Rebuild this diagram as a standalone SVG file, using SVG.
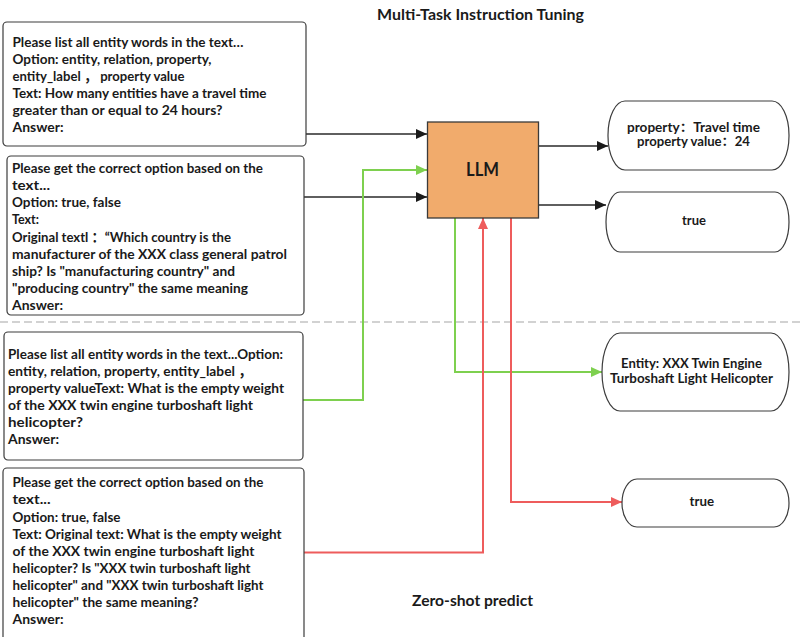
<svg xmlns="http://www.w3.org/2000/svg" width="803" height="637" viewBox="0 0 803 637">
  <style>
    .bg { fill: #ffffff; }
    .box { fill: #ffffff; stroke: #3c3c3c; stroke-width: 1.2; }
    .llm { fill: #F1AB6C; stroke: #3a3a3a; stroke-width: 1.3; }
    .t { font-family: Lato, "Open Sans", "Noto Sans CJK SC", sans-serif; font-weight: 700; font-size: 14px; fill: #1a1a1a; }
    .o { font-family: Lato, "Open Sans", "Noto Sans CJK SC", sans-serif; font-weight: 700; font-size: 12.5px; fill: #1a1a1a; }
    .h { font-family: Lato, "Open Sans", sans-serif; font-weight: 700; font-size: 15px; fill: #1a1a1a; }
    .big { font-family: Lato, "Open Sans", sans-serif; font-weight: 700; font-size: 18px; fill: #1a1a1a; }
    .blk { fill: none; stroke: #2a2a2a; stroke-width: 1.4; }
    .grn { fill: none; stroke: #7ED04F; stroke-width: 2; }
    .red { fill: none; stroke: #EE5C5C; stroke-width: 2; }
    .sep { fill: none; stroke: #c4c4c4; stroke-width: 1.5; stroke-dasharray: 8 4; }
  </style>
  <defs>
    <marker id="ah-black" markerUnits="userSpaceOnUse" markerWidth="12" markerHeight="10" refX="11" refY="5" orient="auto">
      <path d="M0,0 L11,5 L0,10 Z" fill="#1a1a1a"/>
    </marker>
    <marker id="ah-green" markerUnits="userSpaceOnUse" markerWidth="12" markerHeight="10" refX="11" refY="5" orient="auto">
      <path d="M0,0 L11,5 L0,10 Z" fill="#7ED04F"/>
    </marker>
    <marker id="ah-red" markerUnits="userSpaceOnUse" markerWidth="12" markerHeight="10" refX="11" refY="5" orient="auto">
      <path d="M0,0 L11,5 L0,10 Z" fill="#EE5C5C"/>
    </marker>
  </defs>

  <rect class="bg" x="0" y="0" width="803" height="637"/>

  <!-- section headings and divider -->
  <text class="h" x="377" y="19.5" textLength="207" lengthAdjust="spacingAndGlyphs">Multi-Task Instruction Tuning</text>
  <line class="sep" x1="0" y1="322" x2="803" y2="322"/>
  <text class="h" x="412" y="606" textLength="121" lengthAdjust="spacingAndGlyphs">Zero-shot predict</text>

  <!-- connectors -->
  <g id="connectors">
    <path class="blk" d="M306,134 H427" marker-end="url(#ah-black)"/>
    <path class="blk" d="M304,197 H427" marker-end="url(#ah-black)"/>
    <path class="blk" d="M539,146 H608" marker-end="url(#ah-black)"/>
    <path class="blk" d="M539,205 H606" marker-end="url(#ah-black)"/>
    <path class="grn" d="M303,400 H363 V170 H427" marker-end="url(#ah-green)"/>
    <path class="grn" d="M455,218 V372 H602" marker-end="url(#ah-green)"/>
    <path class="red" d="M304,552.5 H483 V218" marker-end="url(#ah-red)"/>
    <path class="red" d="M511,218 V502 H622" marker-end="url(#ah-red)"/>
  </g>

  <!-- instruction 1 -->
  <g id="prompt-entity-train">
    <rect class="box" x="3" y="22" width="303" height="124" rx="4"/>
    <text class="t" x="12.5" y="46.5" textLength="231" lengthAdjust="spacingAndGlyphs">Please list all entity words in the text…</text>
    <text class="t" x="12.5" y="63.5" textLength="199" lengthAdjust="spacingAndGlyphs">Option: entity, relation, property,</text>
    <text class="t" x="12.5" y="80.5" textLength="172" lengthAdjust="spacingAndGlyphs">entity_label ， property value</text>
    <text class="t" x="12.5" y="97.5" textLength="254" lengthAdjust="spacingAndGlyphs">Text: How many entities have a travel time</text>
    <text class="t" x="12.5" y="114.5" textLength="210" lengthAdjust="spacingAndGlyphs">greater than or equal to 24 hours?</text>
    <text class="t" x="12.5" y="131.5" textLength="51" lengthAdjust="spacingAndGlyphs">Answer:</text>
  </g>

  <!-- instruction 2 -->
  <g id="prompt-option-train">
    <rect class="box" x="7" y="156" width="297" height="159" rx="4"/>
    <text class="t" x="12" y="173.3" textLength="251" lengthAdjust="spacingAndGlyphs">Please get the correct option based on the</text>
    <text class="t" x="12" y="190.3" textLength="38" lengthAdjust="spacingAndGlyphs">text...</text>
    <text class="t" x="12" y="207.3" textLength="109" lengthAdjust="spacingAndGlyphs">Option: true, false</text>
    <text class="t" x="12" y="224.3" textLength="27" lengthAdjust="spacingAndGlyphs">Text:</text>
    <text class="t" x="12" y="241.5" textLength="219" lengthAdjust="spacingAndGlyphs">Original textl ：“Which country is the</text>
    <text class="t" x="12" y="258.5" textLength="275" lengthAdjust="spacingAndGlyphs">manufacturer of the XXX class general patrol</text>
    <text class="t" x="12" y="275.7" textLength="223" lengthAdjust="spacingAndGlyphs">ship? Is "manufacturing country" and</text>
    <text class="t" x="12" y="292.7" textLength="236" lengthAdjust="spacingAndGlyphs">"producing country" the same meaning</text>
    <text class="t" x="12" y="309.7" textLength="51" lengthAdjust="spacingAndGlyphs">Answer:</text>
  </g>

  <!-- instruction 3 -->
  <g id="prompt-entity-test">
    <rect class="box" x="4" y="332" width="299" height="128" rx="4"/>
    <text class="t" x="8" y="359.3" textLength="275" lengthAdjust="spacingAndGlyphs">Please list all entity words in the text...Option:</text>
    <text class="t" x="8" y="376.3" textLength="244" lengthAdjust="spacingAndGlyphs">entity, relation, property, entity_label ，</text>
    <text class="t" x="8" y="393.3" textLength="276" lengthAdjust="spacingAndGlyphs">property valueText: What is the empty weight</text>
    <text class="t" x="8" y="410.3" textLength="245" lengthAdjust="spacingAndGlyphs">of the XXX twin engine turboshaft light</text>
    <text class="t" x="8" y="427.3" textLength="75" lengthAdjust="spacingAndGlyphs">helicopter?</text>
    <text class="t" x="8" y="444.3" textLength="51" lengthAdjust="spacingAndGlyphs">Answer:</text>
  </g>

  <!-- instruction 4 -->
  <g id="prompt-option-test">
    <rect class="box" x="3" y="468" width="301" height="180" rx="4"/>
    <text class="t" x="12.5" y="487.3" textLength="251" lengthAdjust="spacingAndGlyphs">Please get the correct option based on the</text>
    <text class="t" x="12.5" y="504.4" textLength="38" lengthAdjust="spacingAndGlyphs">text...</text>
    <text class="t" x="12.5" y="521.5" textLength="108" lengthAdjust="spacingAndGlyphs">Option: true, false</text>
    <text class="t" x="12.5" y="538.6" textLength="269" lengthAdjust="spacingAndGlyphs">Text: Original text: What is the empty weight</text>
    <text class="t" x="12.5" y="555.7" textLength="242" lengthAdjust="spacingAndGlyphs">of the XXX twin engine turboshaft light</text>
    <text class="t" x="12.5" y="572.8" textLength="238" lengthAdjust="spacingAndGlyphs">helicopter? Is "XXX twin turboshaft light</text>
    <text class="t" x="12.5" y="589.9" textLength="251" lengthAdjust="spacingAndGlyphs">helicopter" and "XXX twin turboshaft light</text>
    <text class="t" x="12.5" y="607" textLength="186" lengthAdjust="spacingAndGlyphs">helicopter" the same meaning?</text>
    <text class="t" x="12.5" y="624.2" textLength="51" lengthAdjust="spacingAndGlyphs">Answer:</text>
  </g>

  <!-- model -->
  <g id="llm">
    <rect class="llm" x="427.5" y="122" width="111" height="96"/>
    <text class="big" x="466" y="176" textLength="33" lengthAdjust="spacingAndGlyphs">LLM</text>
  </g>

  <!-- outputs -->
  <g id="out-property">
    <rect class="box" x="608" y="101" width="181" height="69" rx="17" ry="34"/>
    <text class="o" x="627" y="131.7" textLength="133" lengthAdjust="spacingAndGlyphs">property：Travel time</text>
    <text class="o" x="637" y="146" textLength="113" lengthAdjust="spacingAndGlyphs">property value：24</text>
  </g>
  <g id="out-true-train">
    <rect class="box" x="606" y="192" width="183" height="60" rx="14" ry="30"/>
    <text class="t" x="682" y="225" textLength="24" lengthAdjust="spacingAndGlyphs">true</text>
  </g>
  <g id="out-entity">
    <rect class="box" x="602" y="333" width="187" height="78" rx="18" ry="39"/>
    <text class="o" x="621" y="368.3" textLength="141" lengthAdjust="spacingAndGlyphs">Entity: XXX Twin Engine</text>
    <text class="o" x="610" y="382.7" textLength="163" lengthAdjust="spacingAndGlyphs">Turboshaft Light Helicopter</text>
  </g>
  <g id="out-true-test">
    <rect class="box" x="622" y="479" width="167" height="48" rx="15" ry="24"/>
    <text class="t" x="689.5" y="506" textLength="24.5" lengthAdjust="spacingAndGlyphs">true</text>
  </g>
</svg>
